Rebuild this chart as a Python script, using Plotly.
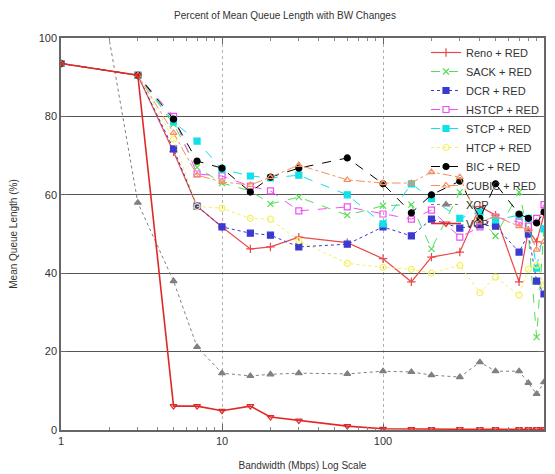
import plotly.graph_objects as go

bandwidth = [1, 3, 5, 7, 10, 15, 20, 30, 60, 100, 150, 200, 300, 400, 500, 700, 800, 900, 1000]

reno  = [93.5, 90.5, 71.0, 57.1, 51.8, 46.2, 46.7, 49.2, 47.8, 43.7, 37.8, 44.1, 45.4, 57.0, 54.8, 37.8, 51.0, 48.0, 55.0]
sack  = [93.5, 90.5, 78.0, 67.0, 63.0, 61.0, 57.7, 59.4, 54.8, 57.2, 57.5, 46.2, 60.7, 54.0, 49.5, 60.7, 50.0, 23.7, 51.5]
dcr   = [93.5, 90.5, 71.7, 57.1, 51.8, 50.2, 49.7, 46.7, 47.4, 51.8, 49.5, 53.8, 51.5, 52.3, 52.0, 45.4, 50.0, 38.0, 34.7]
hstcp = [93.5, 90.5, 80.0, 65.3, 64.8, 62.2, 61.0, 55.9, 56.9, 55.1, 53.8, 56.1, 49.2, 51.8, 54.3, 53.0, 52.0, 54.0, 57.5]
stcp  = [93.5, 90.5, 78.6, 73.7, 66.5, 64.8, 64.3, 65.0, 60.0, 52.6, 62.8, 59.0, 54.0, 55.6, 53.6, 54.8, 54.0, 41.3, 51.3]
htcp  = [93.5, 90.5, 74.2, 57.0, 56.6, 54.0, 53.8, 48.3, 42.5, 41.5, 41.0, 40.0, 42.0, 35.0, 39.0, 34.4, 41.0, 42.0, 37.0]
bic   = [93.5, 90.5, 79.3, 68.6, 66.8, 60.7, 64.5, 66.8, 69.4, 62.8, 55.4, 60.0, 63.5, 54.0, 62.8, 55.1, 54.0, 52.8, 55.6]
cubic = [93.5, 90.5, 75.8, 65.0, 63.3, 62.5, 64.5, 67.6, 63.8, 63.0, 63.0, 65.8, 64.5, 53.0, 54.5, 52.0, 51.0, 46.0, 48.0]
xcp   = [170.0, 58.0, 38.0, 21.2, 14.5, 13.8, 14.2, 14.5, 14.3, 15.0, 14.8, 14.0, 13.5, 17.3, 15.0, 15.0, 12.0, 9.2, 12.2]
vcp   = [93.5, 90.5, 6.1, 6.1, 4.9, 6.1, 3.3, 2.4, 1.0, 0.3, 0.2, 0.2, 0.2, 0.2, 0.2, 0.2, 0.2, 0.2, 0.2]

series = [
    ("Reno + RED", reno, "#e8484a", "solid", "cross-thin", 1.2),
    ("SACK + RED", sack, "#55dd55", "dash", "x-thin", 1.0),
    ("DCR + RED", dcr, "#3a3ad0", "dot", "square", 1.0),
    ("HSTCP + RED", hstcp, "#f050f0", "dash", "square-open", 1.0),
    ("STCP + RED", stcp, "#10e0e8", "dash", "square", 1.0),
    ("HTCP + RED", htcp, "#f4f060", "dot", "circle-open", 1.0),
    ("BIC + RED", bic, "#000000", "dash", "circle", 1.0),
    ("CUBIC + RED", cubic, "#f49060", "dashdot", "triangle-up-open", 1.0),
    ("XCP", xcp, "#808080", "dot", "triangle-up", 1.0),
    ("VCP", vcp, "#e02828", "solid", "triangle-down-open", 1.6),
]

W, H = 547, 466

fig = go.Figure()
for name, vals, color, dash, sym, w in series:
    fig.add_trace(go.Scatter(
        x=bandwidth, y=vals, name=name, mode="lines+markers",
        line=dict(color=color, dash=dash, width=w),
        marker=dict(symbol=sym, size=6, color=color,
                    line=dict(color=color, width=1.2)),
        cliponaxis=True,
    ))

fig.update_layout(
    width=W, height=H,
    margin=dict(l=53, r=11, t=30, b=44),
    paper_bgcolor="white", plot_bgcolor="white",
    font=dict(family="Liberation Sans, Arial, sans-serif", size=10, color="#333"),
    title=dict(text="Percent of Mean Queue Length with BW Changes",
               x=277 / W, xanchor="center", xref="container",
               y=1 - 7 / H, yanchor="middle", yref="container",
               font=dict(size=10, color="#333")),
    showlegend=True,
    legend=dict(x=1, xanchor="right", y=1, yanchor="top",
                bgcolor="rgba(255,255,255,0)", borderwidth=0,
                font=dict(size=11, color="#333"),
                tracegroupgap=0, itemwidth=30),
)

fig.update_xaxes(
    type="log", range=[0, 3], automargin=False,
    tickvals=[1, 10, 100, 1000], ticktext=["1", "10", "100", "1000"],
    ticks="inside", ticklen=6, tickcolor="#666",
    showline=True, linecolor="#666", linewidth=1.5, mirror="ticks",
    showgrid=True, gridcolor="#b0b0b0", griddash="dot", gridwidth=1,
    minor=dict(ticks="inside", ticklen=3, tickcolor="#888", dtick="D1", showgrid=False),
    title=dict(text="Bandwidth (Mbps) Log Scale", font=dict(size=10, color="#333"), standoff=16),
    tickfont=dict(size=11, color="#333"),
    zeroline=False,
)
fig.update_yaxes(
    range=[0, 100], dtick=20, automargin=False,
    ticks="inside", ticklen=6, tickcolor="#666",
    showline=True, linecolor="#666", linewidth=1.5, mirror="ticks",
    showgrid=True, gridcolor="#555", gridwidth=1,
    title=dict(text="Mean Queue Length (%)", font=dict(size=10, color="#333"), standoff=24),
    tickfont=dict(size=11, color="#333"),
    zeroline=False,
)

fig.write_html("out.html")
